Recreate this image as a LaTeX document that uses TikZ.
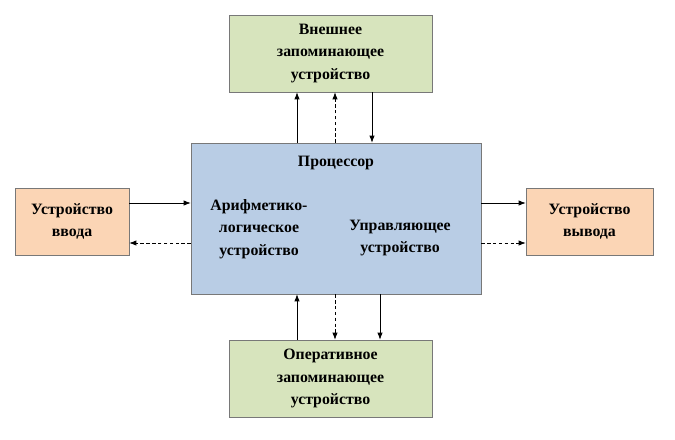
\documentclass[tikz,border=0pt]{standalone}
\usepackage{fontspec}
\setmainfont{Liberation Serif}
\usetikzlibrary{arrows.meta}
\definecolor{memgreen}{RGB}{215,228,189}
\definecolor{cpublue}{RGB}{185,205,229}
\definecolor{ioorange}{RGB}{251,213,181}
\definecolor{rim}{RGB}{120,120,120}
\begin{document}
\begin{tikzpicture}[x=0.03cm,y=-0.03cm,auto]

%
% Styles
%
\tikzstyle{unit}  = [draw=rim,thin,align=center,font=\fontsize{13.5}{19}\selectfont\bfseries,inner sep=0pt]
\tikzstyle{mem}   = [unit,fill=memgreen,minimum width=203*0.03cm,minimum height=77*0.03cm]
\tikzstyle{dev}   = [unit,fill=ioorange,minimum height=67*0.03cm]
\tikzstyle{label} = [align=center,font=\fontsize{13.5}{19}\selectfont\bfseries]
\tikzstyle{edge}  = [-{Latex[length=6pt,width=4.5pt]},semithick]
\tikzstyle{edge2} = [-{Latex[length=6pt,width=4.5pt]},semithick,dash pattern=on 3pt off 2pt]

\useasboundingbox (0,0) rectangle (675,439);

\node[mem] (ext) at (330.5,53.5) {Внешнее\\запоминающее\\устройство};
\node[mem] (ram) at (330.5,378.5) {Оперативное\\запоминающее\\устройство};
\node[unit,fill=cpublue,minimum width=290*0.03cm,minimum height=151*0.03cm] (cpu) at (336,218.5) {};
\node[dev,minimum width=114*0.03cm] (in)  at (72,221.5)  {Устройство\\ввода};
\node[dev,minimum width=127*0.03cm] (out) at (589.5,221.5) {Устройство\\вывода};

\node[label] (proc) at (336,163) {Процессор};
\node[label] (alu)  at (259,229) {Арифметико-\\логическое\\устройство};
\node[label] (cu)   at (400,238) {Управляющее\\устройство};

\coordinate (a1) at (297,0);
\coordinate (a2) at (335,0);
\coordinate (a3) at (372,0);
\coordinate (b3) at (380,0);
\coordinate (r1) at (0,203);
\coordinate (r2) at (0,243);

\draw[edge]  (cpu.north -| a1) -- (ext.south -| a1);
\draw[edge2] (cpu.north -| a2) -- (ext.south -| a2);
\draw[edge]  (ext.south -| a3) -- (cpu.north -| a3);

\draw[edge]  (ram.north -| a1) -- (cpu.south -| a1);
\draw[edge2] (cpu.south -| a2) -- (ram.north -| a2);
\draw[edge]  (cpu.south -| b3) -- (ram.north -| b3);

\draw[edge]  (in.east |- r1) -- (cpu.west |- r1);
\draw[edge2] (cpu.west |- r2) -- (in.east |- r2);
\draw[edge]  (cpu.east |- r1) -- (out.west |- r1);
\draw[edge2] (cpu.east |- r2) -- (out.west |- r2);

\end{tikzpicture}
\end{document}
